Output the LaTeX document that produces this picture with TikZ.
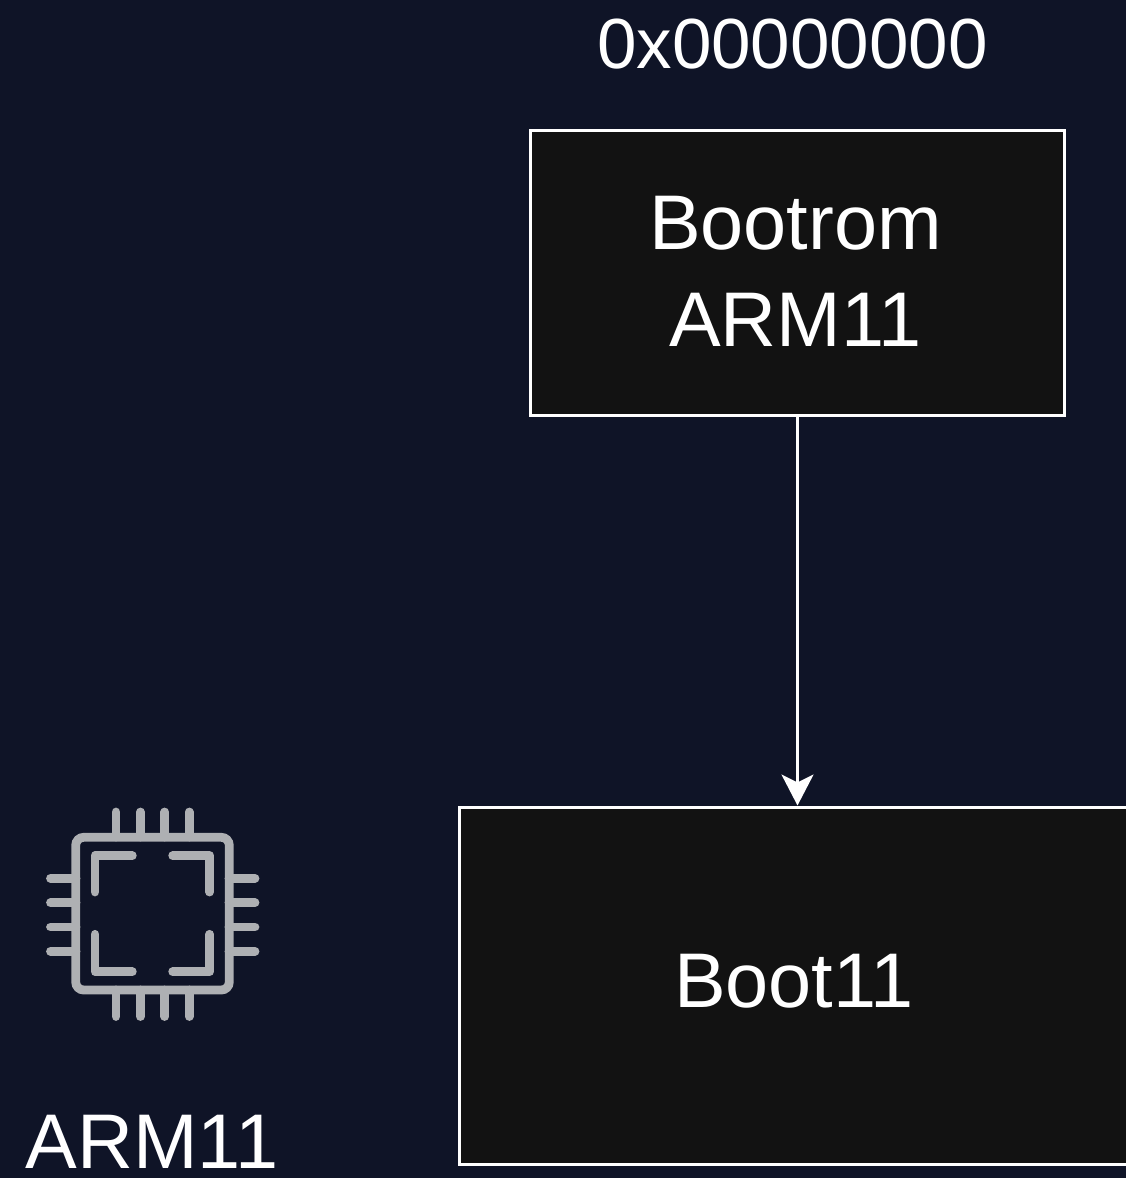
\documentclass[tikz,border=0pt]{standalone}
\usepackage{fontspec}
\setmainfont{Liberation Sans}
\usetikzlibrary{arrows.meta}
\definecolor{bgc}{HTML}{0F1427}
\definecolor{boxc}{HTML}{121212}
\definecolor{iconc}{HTML}{AEB0B3}
\tikzset{
  x=1pt,y=-1pt,
  lbl/.style={text=white,font=\fontsize{77.5}{97}\selectfont,inner sep=0pt},
  addrlbl/.style={text=white,font=\fontsize{71}{80}\selectfont,inner sep=0pt},
  lbltwo/.style={lbl,align=center},
  blockbox/.style={draw=white,line width=3pt,fill=boxc,inner sep=0pt,minimum width=0pt},
  conn/.style={draw=white,line width=3pt,-{Stealth[length=31pt,width=32pt,inset=8pt]}},
  chipline/.style={draw=iconc,line width=8.8pt,line cap=round,line join=round},
  chipframe/.style={draw=iconc,line width=8.8pt,rounded corners=8pt}
}
\begin{document}
\begin{tikzpicture}
\useasboundingbox (0,0) rectangle (1126,1178);
\clip (0,0) rectangle (1126,1178);
\fill[bgc] (0,0) rectangle (1126,1178);
\node[blockbox,minimum width=534pt,minimum height=285pt] (bootrom) at (797.5,272.5) {};
\node[blockbox,minimum width=672pt,minimum height=357pt] (bootel) at (795,985.5) {};
\node[addrlbl] (addr) at (792.5,44) {0x00000000};
\node[lbltwo] (bootromtext) at (795.5,271) {Bootrom\\ARM11};
\node[lbl] (bootelText) at (794,981.5) {Boot11};
\node[lbl] (armlabel) at (152,1141.5) {ARM11};
\draw[conn] (bootrom.south) -- (bootrom.south |- bootel.north);
% chip icon
\foreach \p in {116,140.4,164.8,189.2}{
  \draw[chipline] (\p,812) -- (\p,837);
  \draw[chipline] (\p,990) -- (\p,1016.5);
}
\foreach \p in {878.3,902.7,927,951.3}{
  \draw[chipline] (50.5,\p) -- (76,\p);
  \draw[chipline] (229,\p) -- (255,\p);
}
\draw[chipframe] (75.7,837.3) rectangle (229.3,990);
\draw[chipline] (95,892) -- (95,855.7) -- (132.3,855.7);
\draw[chipline] (172.7,855.7) -- (209.7,855.7) -- (209.7,892);
\draw[chipline] (95,934.3) -- (95,971.7) -- (132.3,971.7);
\draw[chipline] (172.7,971.7) -- (209.7,971.7) -- (209.7,934.3);
\end{tikzpicture}
\end{document}
